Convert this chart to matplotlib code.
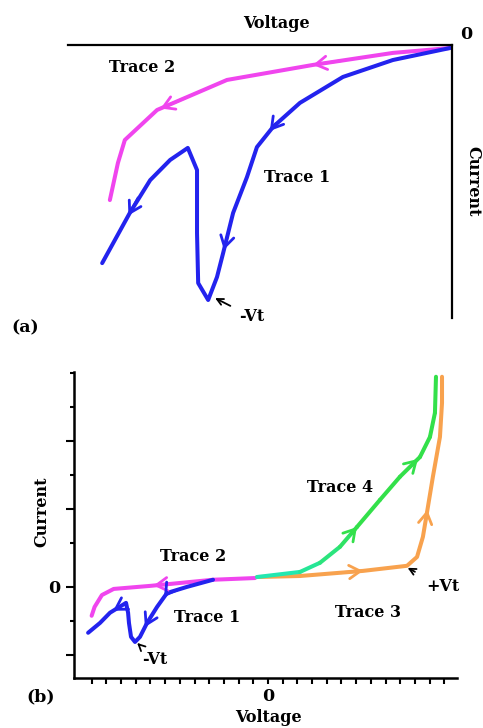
import numpy as np
import matplotlib
matplotlib.use("Agg")
import matplotlib.pyplot as plt
from matplotlib.collections import LineCollection
from matplotlib.colors import to_rgb

# ---- panel (a) data : zoomed view of negative voltage sweep ----
a_trace2_v = [-0.05, -1.54, -3.62, -5.86, -7.68, -8.52, -8.70, -8.91]
a_trace2_i = [-0.11, -0.29, -0.73, -1.28, -2.38, -3.48, -4.32, -5.68]
a_trace1_v = [-0.05, -1.54, -2.84, -3.96, -4.66, -5.08, -5.34, -5.70, -5.96, -6.12,
              -6.35, -6.61, -6.64, -6.64, -6.88, -7.34, -7.86, -8.39, -9.11]
a_trace1_i = [-0.11, -0.55, -1.17, -2.12, -3.00, -3.74, -4.84, -6.15, -7.62, -8.50,
              -9.34, -8.72, -6.89, -4.58, -3.77, -4.21, -4.95, -6.15, -7.99]

# ---- panel (b) data : full sweep ----
b_trace2_v = [-0.88, -3.74, -8.0, -10.5, -11.3, -11.8, -12.0]
b_trace2_i = [0.26, 0.21, 0.03, -0.06, -0.24, -0.59, -0.85]
b_trace1_v = [-3.74, -5.51, -6.87, -7.55, -8.23, -8.71, -9.05, -9.32, -9.46, -9.52,
              -9.66, -10.75, -11.43, -12.24]
b_trace1_i = [0.21, 0.0, -0.18, -0.59, -1.06, -1.47, -1.62, -1.47, -1.06, -0.76,
              -0.47, -0.76, -1.06, -1.35]
b_trace4_v = [-0.75, 2.18, 3.54, 4.90, 6.05, 7.62, 8.98, 10.34, 11.02, 11.36, 11.43]
b_trace4_i = [0.29, 0.44, 0.71, 1.18, 1.76, 2.56, 3.24, 3.82, 4.41, 5.12, 6.18]
b_trace3_v = [-0.75, 2.18, 6.46, 9.46, 10.14, 10.54, 10.88, 11.22, 11.70, 11.84, 11.84]
b_trace3_i = [0.29, 0.32, 0.47, 0.62, 0.88, 1.47, 2.35, 3.24, 4.41, 5.41, 6.18]

b_xticks = list(range(-12, 13))
b_yticks_major = [-2, 0, 2.3, 4.3]
b_yticks_minor = [-1, 1.3, 3.3, 5.3, 6.3]

BLUE = "#2323ee"
MAGENTA = "#f045ee"
TEAL = "#22e8b0"
GREEN = "#33e04a"
ORANGE = "#f8a24e"
LW = 2.9
FONT = dict(family="DejaVu Serif", fontweight="bold", fontsize=11.5)

W, H = 483, 728
fig = plt.figure(figsize=(W / 100, H / 100), dpi=100)


def px_axes(x0, y0, x1, y1):
    return fig.add_axes([x0 / W, 1 - y1 / H, (x1 - x0) / W, (y1 - y0) / H])


def chevrons(ax, xs, ys, spots, color):
    # open arrowheads sitting on the trace, pointing along it
    for seg, t in spots:
        p0 = np.array([xs[seg], ys[seg]])
        p1 = np.array([xs[seg + 1], ys[seg + 1]])
        tip = p0 + t * (p1 - p0)
        tail = tip - 0.35 * (p1 - p0)
        ax.annotate("", xy=tip, xytext=tail,
                    arrowprops=dict(arrowstyle="->,head_length=0.5,head_width=0.3",
                                    color=color, lw=2.0, shrinkA=0, shrinkB=0,
                                    mutation_scale=16))


# ================= panel (a) =================
axa = px_axes(68, 45, 452, 318)
axa.set_xlim(-10, 0)
axa.set_ylim(-10, 0)
for s in ["left", "bottom"]:
    axa.spines[s].set_visible(False)
for s in ["top", "right"]:
    axa.spines[s].set_linewidth(1.6)
axa.set_xticks([])
axa.set_yticks([])
axa.patch.set_alpha(0)

axa.plot(a_trace2_v, a_trace2_i, color=MAGENTA, lw=LW, solid_capstyle="round",
         solid_joinstyle="round", clip_on=False)
axa.plot(a_trace1_v, a_trace1_i, color=BLUE, lw=LW, solid_capstyle="round",
         solid_joinstyle="round", clip_on=False)
chevrons(axa, a_trace2_v, a_trace2_i, [(1, 1.0), (3, 0.95)], MAGENTA)
chevrons(axa, a_trace1_v, a_trace1_i, [(4, 0.2), (7, 0.92), (17, 0.05)], BLUE)

axa.text(-4.56, 0.8, "Voltage", ha="center", va="center", **FONT)
axa.text(0.2, 0.37, "0", ha="left", va="center", **dict(FONT, fontsize=12.5))
axa.text(0.55, -5.0, "Current", ha="center", va="center", rotation=-90, **FONT)
axa.text(-11.12, -10.37, "(a)", ha="center", va="center", **dict(FONT, fontsize=12.5))
axa.text(-8.07, -0.81, "Trace 2", ha="center", va="center", **FONT)
axa.text(-4.04, -4.84, "Trace 1", ha="center", va="center", **FONT)
axa.annotate("-Vt", xy=(-6.17, -9.27), xytext=(-5.21, -9.96), ha="center", va="center",
             arrowprops=dict(arrowstyle="->", color="black", lw=1.3, shrinkA=5, shrinkB=0),
             annotation_clip=False, **FONT)

# ================= panel (b) =================
axb = px_axes(74, 372, 457, 678)
axb.set_xlim(-13.2, 12.86)
axb.set_ylim(-2.68, 6.32)
axb.spines["top"].set_visible(False)
axb.spines["right"].set_visible(False)
axb.spines["left"].set_linewidth(1.8)
axb.spines["bottom"].set_linewidth(1.8)
axb.patch.set_alpha(0)

axb.set_xticks(b_xticks)
axb.set_xticklabels(["0" if v == 0 else "" for v in b_xticks])
axb.tick_params(axis="x", length=4, width=1.5, pad=3, labelsize=12.5)
axb.set_yticks(b_yticks_major)
axb.set_yticklabels(["0" if v == 0 else "" for v in b_yticks_major])
axb.set_yticks(b_yticks_minor, minor=True)
axb.tick_params(axis="y", which="major", length=6, width=1.5, pad=4, labelsize=12.5)
axb.tick_params(axis="y", which="minor", length=3, width=1.5)
for lab in axb.get_xticklabels() + axb.get_yticklabels():
    lab.set_family("DejaVu Serif")
    lab.set_fontweight("bold")

axb.plot(b_trace2_v, b_trace2_i, color=MAGENTA, lw=LW, solid_capstyle="round",
         solid_joinstyle="round")
axb.plot(b_trace1_v, b_trace1_i, color=BLUE, lw=LW, solid_capstyle="round",
         solid_joinstyle="round")
axb.plot(b_trace3_v, b_trace3_i, color=ORANGE, lw=LW, solid_capstyle="round",
         solid_joinstyle="round")

# trace 4 fades from teal into green
pts = np.column_stack([b_trace4_v, b_trace4_i])
segs = np.stack([pts[:-1], pts[1:]], axis=1)
c0, c1 = np.array(to_rgb(TEAL)), np.array(to_rgb(GREEN))
mix = np.clip(np.arange(len(segs)) / 4.0, 0, 1)
seg_colors = [tuple(c0 * (1 - m) + c1 * m) for m in mix]
axb.add_collection(LineCollection(segs, colors=seg_colors, linewidths=LW,
                                  capstyle="round", joinstyle="round"))

chevrons(axb, b_trace2_v, b_trace2_i, [(1, 0.95)], MAGENTA)
chevrons(axb, b_trace1_v, b_trace1_i, [(2, 0.3), (4, 0.3), (10, 0.8)], BLUE)
chevrons(axb, b_trace4_v, b_trace4_i, [(3, 1.0), (6, 0.9)], GREEN)
chevrons(axb, b_trace3_v, b_trace3_i, [(1, 1.0), (5, 0.9)], ORANGE)

axb.text(-5.1, 0.88, "Trace 2", ha="center", va="center", **FONT)
axb.text(-4.15, -0.91, "Trace 1", ha="center", va="center", **FONT)
axb.text(4.9, 2.91, "Trace 4", ha="center", va="center", **FONT)
axb.text(6.8, -0.74, "Trace 3", ha="center", va="center", **FONT)
axb.annotate("+Vt", xy=(9.5, 0.56), xytext=(11.9, 0.0), ha="center", va="center",
             arrowprops=dict(arrowstyle="->", color="black", lw=1.3, shrinkA=7, shrinkB=0),
             **FONT)
axb.annotate("-Vt", xy=(-8.9, -1.65), xytext=(-7.7, -2.15), ha="center", va="center",
             arrowprops=dict(arrowstyle="->", color="black", lw=1.3, shrinkA=4, shrinkB=0),
             **FONT)
axb.text(-15.4, 2.2, "Current", ha="center", va="center", rotation=90, **FONT)
axb.text(-15.5, -3.24, "(b)", ha="center", va="center", clip_on=False,
         **dict(FONT, fontsize=12.5))
axb.text(0, -3.85, "Voltage", ha="center", va="center", clip_on=False, **FONT)

fig.savefig("out.png", dpi=100)
